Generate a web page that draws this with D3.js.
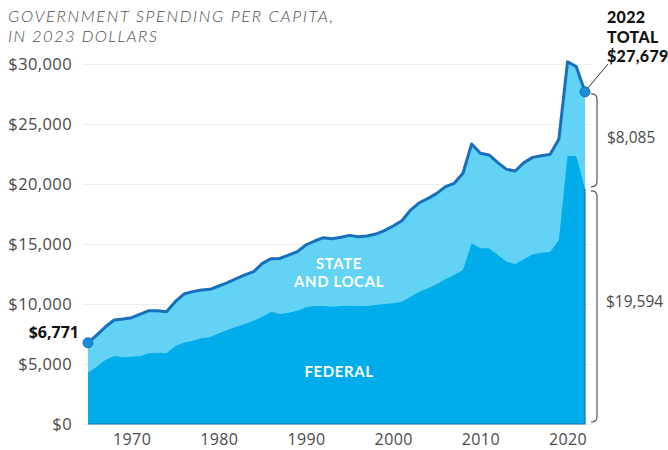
<!DOCTYPE html>
<html>
<head>
<meta charset="utf-8">
<script src="https://cdn.jsdelivr.net/npm/d3@7"></script>
<style>
  html, body { margin: 0; padding: 0; background: #ffffff; }
  svg { display: block; }
  .axis text { font-family: "Open Sans", sans-serif; fill: #4a4a4a; }
</style>
</head>
<body>
<svg id="chart" width="668" height="450"></svg>
<script>
// ---- Data ----
const years = [1965,1966,1967,1968,1969,1970,1971,1972,1973,1974,
  1975,1976,1977,1978,1979,1980,1981,1982,1983,1984,
  1985,1986,1987,1988,1989,1990,1991,1992,1993,1994,
  1995,1996,1997,1998,1999,2000,2001,2002,2003,2004,
  2005,2006,2007,2008,2009,2010,2011,2012,2013,2014,
  2015,2016,2017,2018,2019,2020,2021,2022];

// Total government spending per capita (federal + state and local), 2023 dollars
const totalSpending = [6771,7400,8100,8670,8750,8860,9150,9440,9440,9360,
  10190,10830,11030,11170,11220,11500,11780,12110,12420,12700,
  13390,13780,13800,14080,14360,14920,15250,15530,15430,15560,
  15720,15610,15670,15830,16110,16500,16940,17830,18440,18800,
  19220,19780,20060,20900,23330,22560,22420,21780,21220,21080,
  21780,22220,22360,22470,23720,30190,29780,27679];

// Federal spending per capita, 2023 dollars
const federalSpending = [4280,4780,5330,5670,5560,5610,5670,5890,5940,5890,
  6500,6780,6940,7140,7220,7560,7830,8110,8330,8610,
  8940,9360,9170,9280,9440,9720,9830,9830,9780,9830,
  9860,9830,9830,9920,10000,10060,10190,10610,11030,11310,
  11670,12060,12420,12830,15060,14640,14640,14080,13530,13330,
  13720,14140,14280,14330,15330,22330,22330,19594];

const yTicks = [0,5000,10000,15000,20000,25000,30000];
const xTicks = [1970,1980,1990,2000,2010,2020];

const titleLines = ["GOVERNMENT SPENDING PER CAPITA,", "IN 2023 DOLLARS"];
const startLabel = "$6,771";
const endLabelLines = ["2022", "TOTAL", "$27,679"];
const stateLocalLines = ["STATE", "AND LOCAL"];
const federalLabel = "FEDERAL";
const stateLocalValue = "$8,085";
const federalValue = "$19,594";

// ---- Build table ----
const rows = years.map((yr, i) => ({ year: yr, total: totalSpending[i], federal: federalSpending[i] }));

const svg = d3.select("#chart");
const x = d3.scaleLinear().domain([1965, 2022]).range([88, 585]);
const y = d3.scaleLinear().domain([0, 30000]).range([424, 64]);

const colFederal = "#00adea";
const colState = "#62d3f4";
const colLine = "#176fbd";
const fontMain = "'Open Sans', sans-serif";
const fontTight = "Lato, 'Open Sans', sans-serif";

// gridlines + y labels
const yAxis = svg.append("g").attr("class", "axis")
  .attr("transform", "translate(83,0)")
  .call(d3.axisLeft(y).tickValues(yTicks)
    .tickSize(-(592 - 83)).tickPadding(11)
    .tickFormat(d => "$" + d3.format(",")(d)));
yAxis.select(".domain").remove();
yAxis.selectAll(".tick line").attr("stroke", "#eeeeee").attr("stroke-width", 1);
yAxis.selectAll(".tick text").style("font-size", "16.5px").style("letter-spacing", "0.4px");

// x labels
const xAxis = svg.append("g").attr("class", "axis")
  .attr("transform", "translate(0,424)")
  .call(d3.axisBottom(x).tickValues(xTicks).tickSize(0).tickPadding(10).tickFormat(d3.format("d")));
xAxis.select(".domain").remove();
xAxis.selectAll(".tick text").style("font-size", "16px").style("letter-spacing", "0.4px");

// areas
const areaTotal = d3.area().x(d => x(d.year)).y0(y(0)).y1(d => y(d.total));
const areaFed = d3.area().x(d => x(d.year)).y0(y(0)).y1(d => y(d.federal));

svg.append("path").datum(rows).attr("d", areaTotal).attr("fill", colState);
svg.append("path").datum(rows).attr("d", areaFed).attr("fill", colFederal);

// thin darker edge along bottom and right side of federal area
const last = rows[rows.length - 1];
svg.append("path")
  .attr("d", d3.line()([[x(1965), y(0)], [x(2022), y(0)], [x(2022), y(last.federal)]]))
  .attr("fill", "none").attr("stroke", "#1c73b0").attr("stroke-width", 1.2);

// top line
svg.append("path").datum(rows)
  .attr("d", d3.line().x(d => x(d.year)).y(d => y(d.total)))
  .attr("fill", "none").attr("stroke", colLine).attr("stroke-width", 3)
  .attr("stroke-linejoin", "round");

// dots
[rows[0], last].forEach(d => {
  svg.append("circle").attr("cx", x(d.year)).attr("cy", y(d.total)).attr("r", 5)
    .attr("fill", "#1b8ad8").attr("stroke", "#1572bd").attr("stroke-width", 1);
});

// multi-line text helper (one text element, several tspans)
function multiText(lines, px, py, lh, styles, anchor) {
  const t = svg.append("text").attr("x", px).attr("y", py).attr("text-anchor", anchor || "start");
  Object.entries(styles).forEach(([k, v]) => t.style(k, v));
  lines.forEach((ln, i) => {
    t.append("tspan").attr("x", px).attr("dy", i === 0 ? 0 : lh).text(ln);
  });
  return t;
}

// area labels
const whiteLabel = { "font-family": fontTight, "font-size": "15px", "font-weight": 700,
  "letter-spacing": "0.6px", "fill": "#ffffff" };
multiText(stateLocalLines, 339, 269, 18, whiteLabel, "middle");
multiText([federalLabel], 339, 377, 18, whiteLabel, "middle");

// start label
svg.append("text").attr("x", 79).attr("y", 338).attr("text-anchor", "end")
  .style("font-family", fontMain).style("font-size", "16px").style("font-weight", 700)
  .attr("fill", "#111").text(startLabel);

// end label
multiText(endLabelLines, 607, 23, 19.5,
  { "font-family": fontTight, "font-size": "16px", "font-weight": 900,
    "letter-spacing": "0.3px", "fill": "#111" });

// leader line
svg.append("line").attr("x1", x(2022) + 3).attr("y1", y(last.total) - 4)
  .attr("x2", 608).attr("y2", 64).attr("stroke", "#333").attr("stroke-width", 1);

// braces
function brace(v0, v1) {
  const y0 = y(v0) + 2, y1 = y(v1) - 2, bx = 597, hx = 591;
  return `M${hx},${y0} Q${bx},${y0} ${bx},${y0 + 5} L${bx},${y1 - 5} Q${bx},${y1} ${hx},${y1}`;
}
svg.append("path").attr("d", brace(last.total, last.federal))
  .attr("fill", "none").attr("stroke", "#555").attr("stroke-width", 1.2);
svg.append("path").attr("d", brace(last.federal, 0))
  .attr("fill", "none").attr("stroke", "#555").attr("stroke-width", 1.2);

svg.append("text").attr("x", 607).attr("y", 143)
  .style("font-family", fontMain).style("font-size", "15.5px").attr("fill", "#4a4a4a")
  .text(stateLocalValue);
svg.append("text").attr("x", 606).attr("y", 307)
  .style("font-family", fontMain).style("font-size", "15.5px").attr("fill", "#4a4a4a")
  .text(federalValue);

// title
const titleWidths = [325, 149];
const title = multiText(titleLines, 8, 22, 20,
  { "font-family": fontTight, "font-size": "16.5px", "font-style": "italic",
    "font-weight": 300, "fill": "#4d4d4d" });
title.selectAll("tspan").each(function(d, i) {
  d3.select(this).attr("textLength", titleWidths[i]).attr("lengthAdjust", "spacing");
});
</script>
</body>
</html>
